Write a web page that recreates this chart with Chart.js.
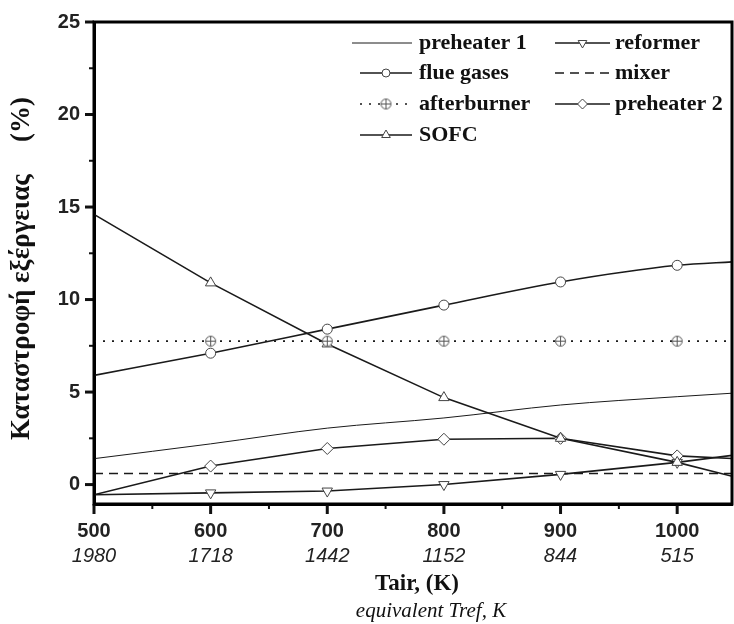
<!DOCTYPE html>
<html>
<head>
<meta charset="utf-8">
<script src="https://cdn.jsdelivr.net/npm/chart.js@4"></script>
<style>
  body { margin: 0; background: #fff; }
</style>
</head>
<body>
<canvas id="exergy-chart" width="734" height="624"></canvas>
<script>
// Tair (K) and the equivalent Tref labels shown under the ticks
const tair = [500, 600, 700, 800, 900, 1000, 1050];
const trefLabels = ["1980", "1718", "1442", "1152", "844", "515"];

// exergy destruction (%) per component
const preheater1 = [1.4, 2.2, 3.05, 3.6, 4.3, 4.75, 4.95];
const flueGases = [5.9, 7.1, 8.4, 9.7, 10.95, 11.85, 12.05];
const afterburner = [7.75, 7.75, 7.75, 7.75, 7.75, 7.75, 7.75];
const sofc = [14.6, 10.9, 7.6, 4.7, 2.5, 1.2, 0.4];
const reformer = [-0.55, -0.45, -0.35, 0.0, 0.55, 1.2, 1.6];
const mixer = [0.6, 0.6, 0.6, 0.6, 0.6, 0.6, 0.6];
const preheater2 = [-0.55, 1.0, 1.95, 2.45, 2.5, 1.55, 1.4];

const INK = "#1a1a1a";
const markerRadius = [0, 5, 5, 5, 5, 5, 0];

// circle with a plus inside, for afterburner
const crossCircle = document.createElement("canvas");
crossCircle.width = 13;
crossCircle.height = 13;
(() => {
  const c = crossCircle.getContext("2d");
  c.strokeStyle = "#555";
  c.fillStyle = "#fff";
  c.lineWidth = 1;
  c.beginPath();
  c.arc(6.5, 6.5, 5, 0, Math.PI * 2);
  c.fill();
  c.stroke();
  c.beginPath();
  c.moveTo(1.5, 6.5); c.lineTo(11.5, 6.5);
  c.moveTo(6.5, 1.5); c.lineTo(6.5, 11.5);
  c.stroke();
})();

const series = (label, data, extra) => Object.assign({
  label: label,
  data: tair.map((x, i) => ({ x: x, y: data[i] })),
  borderColor: INK,
  backgroundColor: "#fff",
  borderWidth: 1.6,
  pointRadius: markerRadius,
  pointBorderWidth: 1,
  pointBorderColor: "#444",
  pointBackgroundColor: "#fff",
  tension: 0,
}, extra);

const datasets = [
  series("preheater 1", preheater1, { borderWidth: 1, pointRadius: 0, cubicInterpolationMode: "monotone" }),
  series("flue gases", flueGases, { pointStyle: "circle", cubicInterpolationMode: "monotone" }),
  series("afterburner", afterburner, { borderDash: [2, 7], borderWidth: 1.6, pointStyle: crossCircle }),
  series("SOFC", sofc, { pointStyle: "triangle", pointRadius: [0, 6, 6, 6, 6, 6, 0] }),
  series("reformer", reformer, { pointStyle: "triangle", pointRotation: 180, pointRadius: [0, 6, 6, 6, 6, 6, 0] }),
  series("mixer", mixer, { borderDash: [9, 6], borderWidth: 1.4, pointRadius: 0 }),
  series("preheater 2", preheater2, { pointStyle: "rectRot", pointRadius: [0, 6, 6, 6, 6, 6, 0] }),
];

// legend slots: [dataset index, line start x, line end x, text x, row y]
const legendSlots = [
  [0, 352, 412, 419, 43],
  [1, 360, 412, 419, 73],
  [2, 360, 412, 419, 104],
  [3, 360, 412, 419, 135],
  [4, 555, 610, 615, 43],
  [5, 555, 610, 615, 73],
  [6, 555, 610, 615, 104],
];

const decorPlugin = {
  id: "decor",
  afterDraw(chart) {
    const ctx = chart.ctx;
    const area = chart.chartArea;
    const xScale = chart.scales.x;
    const yScale = chart.scales.y;

    ctx.save();
    ctx.strokeStyle = "#111";

    // ticks outside the frame, major long and minor short
    xScale.ticks.forEach((t) => {
      const px = xScale.getPixelForValue(t.value);
      const major = t.value % 100 === 0;
      ctx.lineWidth = major ? 3 : 2;
      ctx.beginPath();
      ctx.moveTo(px, area.bottom);
      ctx.lineTo(px, area.bottom + (major ? 10 : 5));
      ctx.stroke();
    });
    yScale.ticks.forEach((t) => {
      const py = yScale.getPixelForValue(t.value);
      const major = t.value % 5 === 0;
      ctx.lineWidth = major ? 3 : 2;
      ctx.beginPath();
      ctx.moveTo(area.left, py);
      ctx.lineTo(area.left - (major ? 9 : 5), py);
      ctx.stroke();
    });

    // frame
    ctx.strokeStyle = "#000";
    ctx.lineWidth = 3;
    ctx.strokeRect(area.left, area.top, area.right - area.left, area.bottom - area.top);

    // legend
    legendSlots.forEach(([idx, x0, x1, tx, y]) => {
      const ds = chart.data.datasets[idx];
      ctx.save();
      ctx.strokeStyle = INK;
      ctx.lineWidth = ds.borderWidth;
      ctx.setLineDash(ds.borderDash || []);
      ctx.beginPath();
      ctx.moveTo(x0, y);
      ctx.lineTo(x1, y);
      ctx.stroke();
      ctx.setLineDash([]);
      const r = Math.max(...[].concat(ds.pointRadius));
      if (r > 0) {
        const cx = (x0 + x1) / 2;
        ctx.fillStyle = "#fff";
        ctx.strokeStyle = "#444";
        ctx.lineWidth = 1;
        Chart.helpers.drawPoint(ctx, {
          pointStyle: ds.pointStyle,
          rotation: ds.pointRotation || 0,
          radius: r - 1,
          borderWidth: 1,
        }, cx, y);
      }
      ctx.restore();
      ctx.fillStyle = "#111";
      ctx.font = "bold 22px 'Liberation Serif', 'Times New Roman', serif";
      ctx.textAlign = "left";
      ctx.textBaseline = "middle";
      ctx.fillText(ds.label, tx, y);
    });

    // equivalent Tref values under the Tair ticks
    ctx.fillStyle = "#222";
    ctx.font = "italic 20px 'Liberation Sans', Arial, sans-serif";
    ctx.textAlign = "center";
    ctx.textBaseline = "middle";
    trefLabels.forEach((lab, i) => {
      ctx.fillText(lab, xScale.getPixelForValue(tair[i]), 556);
    });

    // axis titles
    ctx.fillStyle = "#111";
    ctx.font = "bold 23px 'Liberation Serif', 'Times New Roman', serif";
    ctx.fillText("Tair, (K)", 417, 584);
    ctx.font = "italic 21px 'Liberation Serif', 'Times New Roman', serif";
    ctx.fillText("equivalent Tref, K", 431, 611);

    ctx.translate(22, 0);
    ctx.rotate(-Math.PI / 2);
    ctx.font = "bold 27px 'Liberation Serif', 'Times New Roman', serif";
    ctx.textAlign = "left";
    ctx.fillText("Καταστροφή εξέργειας", -440, 0);
    ctx.textAlign = "right";
    ctx.fillText("(%)", -97, 0);
    ctx.restore();
  },
};

new Chart("exergy-chart", {
  type: "line",
  data: { datasets: datasets },
  options: {
    responsive: false,
    animation: false,
    layout: { padding: { top: 22, right: 2, left: 0, bottom: 0 } },
    plugins: {
      legend: { display: false },
      tooltip: { enabled: false },
    },
    scales: {
      x: {
        type: "linear",
        min: 500,
        max: 1047,
        afterFit: (scale) => {
          scale.height = 120;
          scale.paddingLeft = 0;
          scale.paddingRight = 0;
        },
        border: { display: true, color: "#000", width: 3 },
        grid: { drawOnChartArea: false, drawTicks: false },
        ticks: {
          stepSize: 50,
          includeBounds: false,
          autoSkip: false,
          maxRotation: 0,
          padding: 15,
          color: "#222",
          font: { family: "'Liberation Sans', Arial, sans-serif", size: 20, weight: "bold" },
          callback: (v) => (v % 100 === 0 ? v : ""),
        },
      },
      y: {
        min: -1.05,
        max: 25,
        afterFit: (scale) => {
          scale.width = 94;
          scale.paddingTop = 0;
          scale.paddingBottom = 0;
        },
        border: { display: true, color: "#000", width: 3 },
        grid: { drawOnChartArea: false, drawTicks: false },
        ticks: {
          stepSize: 2.5,
          includeBounds: false,
          autoSkip: false,
          padding: 14,
          color: "#222",
          font: { family: "'Liberation Sans', Arial, sans-serif", size: 20, weight: "bold" },
          callback: (v) => (v % 5 === 0 ? v : ""),
        },
      },
    },
  },
  plugins: [decorPlugin],
});
</script>
</body>
</html>
